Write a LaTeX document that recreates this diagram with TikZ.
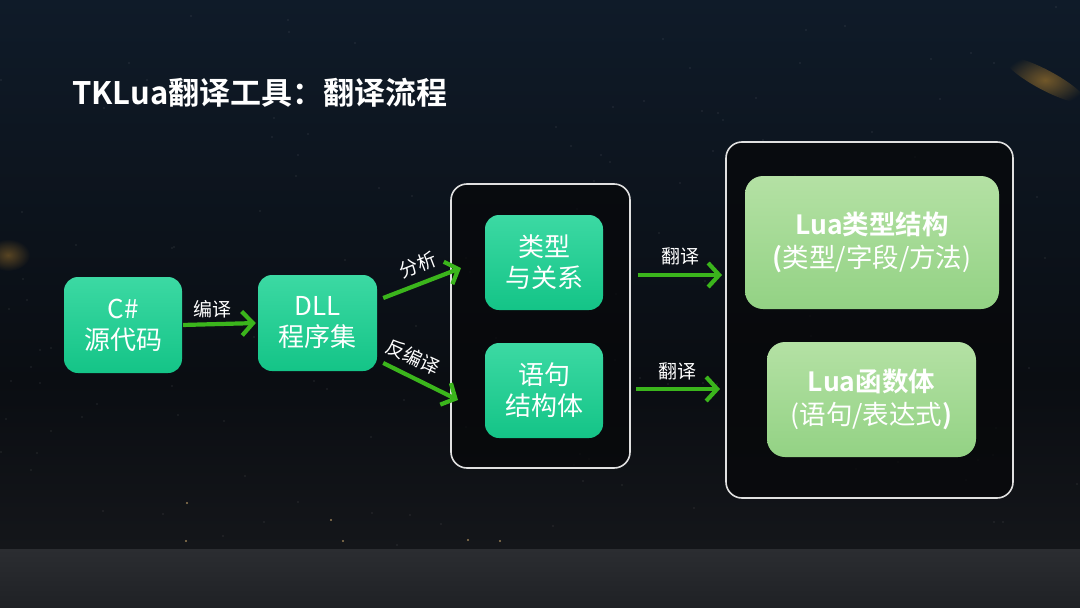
\documentclass[tikz,border=0pt]{standalone}
\usepackage{fontspec}
\setmainfont{Noto Sans CJK SC}[BoldFont={Noto Sans CJK SC Bold}]
\usetikzlibrary{arrows.meta,fadings}
\tikzfading[name=softglow, inner color=transparent!0, outer color=transparent!100]
\definecolor{bgtop}{HTML}{0F1B29}
\definecolor{bgmid}{HTML}{0A0D12}
\definecolor{bglow}{HTML}{14161A}
\definecolor{floortop}{HTML}{2B2D31}
\definecolor{floorbot}{HTML}{1F2125}
\definecolor{gtop}{HTML}{3CD9A3}
\definecolor{gbot}{HTML}{14C487}
\definecolor{ltop}{HTML}{B4E1A4}
\definecolor{lbot}{HTML}{93D284}
\definecolor{arr}{HTML}{3BB51C}
\definecolor{panel}{HTML}{07080A}
\definecolor{gold}{HTML}{B5832E}
\begin{document}
\begin{tikzpicture}[x=1pt,y=-1pt,
  greenbox/.style={rectangle, rounded corners=14pt, top color=gtop, bottom color=gbot,
    text=white, align=center, font=\fontsize{26}{31}\selectfont, inner sep=0pt},
  lightbox/.style={rectangle, rounded corners=18pt, top color=ltop, bottom color=lbot,
    text=white, align=center, font=\fontsize{26.5}{33}\selectfont, inner sep=0pt},
  panelbox/.style={rectangle, draw=white!88!black, line width=1.6pt, rounded corners=16pt,
    fill=panel, fill opacity=0.75, inner sep=0pt},
  flow/.style={draw=arr, line width=4.2pt, -{Straight Barb[length=11pt,width=24pt]}},
  lbl/.style={text=white, font=\fontsize{19}{20}\selectfont, inner sep=0pt}
]
\useasboundingbox (0,0) rectangle (1080,608);
% background
\fill[top color=bgtop, bottom color=bgmid] (0,0) rectangle (1080,380);
\fill[top color=bgmid, bottom color=bglow] (0,380) rectangle (1080,549);
\fill[top color=floortop, bottom color=floorbot] (0,549) rectangle (1080,608);
\fill[gold, path fading=softglow, opacity=0.6, rotate around={-28:(1045,80)}] (1045,80) ellipse (45pt and 10pt);
\fill[gold, path fading=softglow, opacity=0.45] (8,255) ellipse (22pt and 16pt);
\pgfmathsetseed{11}
\foreach \i in {1,...,140}{
  \pgfmathsetmacro\xx{random(0,1080)}
  \pgfmathsetmacro\yy{random(0,545)}
  \fill[white, opacity=0.22] (\xx,\yy) circle (0.7pt);
}
\foreach \p in {(343,541),(331,520),(186,541),(500,541),(468,540),(187,503)}{
  \fill[gold!70!white, opacity=0.7] \p circle (1.1pt);
}
% title
\node[anchor=west, text=white, font=\fontsize{31}{33}\selectfont\bfseries, inner sep=0pt] (title) at (72,93) {TKLua翻译工具：翻译流程};
% panels
\node[panelbox, minimum width=179pt, minimum height=284pt] (mid) at (540.5,326) {};
\node[panelbox, minimum width=287pt, minimum height=356pt] (right) at (869.5,320) {};
% boxes
\node[greenbox, minimum width=118pt, minimum height=96pt] (src) at (123,325) {C\#\\源代码};
\node[greenbox, minimum width=119pt, minimum height=96pt] (dll) at (317.5,323) {DLL\\程序集};
\node[greenbox, minimum width=118pt, minimum height=95pt] (typ) at (544,262.5) {类型\\与关系};
\node[greenbox, minimum width=118pt, minimum height=95pt] (stm) at (544,390.5) {语句\\结构体};
\node[lightbox, minimum width=254pt, minimum height=133pt] (luat) at (872,242.5) {\textbf{Lua类型结构}\\\textbf{(}类型/字段/方法)};
\node[lightbox, minimum width=209pt, minimum height=115pt] (luaf) at (871.5,399.5) {\textbf{Lua函数体}\\(语句/表达式\textbf{)}};
% arrow end points
\coordinate (a1) at (461,268);
\coordinate (a2) at (458,400);
\coordinate (t1s) at (638,275);
\coordinate (t1e) at (722,275);
\coordinate (t2s) at (636,389);
\coordinate (t2e) at (720,389);
% arrows
\draw[flow, shorten <=1pt, shorten >=2pt] (src.east) -- (dll.west);
\draw[flow] ([shift={(6pt,25pt)}]dll.east) -- (a1);
\draw[flow] ([shift={(6pt,-40pt)}]dll.east) -- (a2);
\draw[flow] (t1s) -- (t1e);
\draw[flow] (t2s) -- (t2e);
% labels
\node[lbl] (l1) at (212,309) {编译};
\node[lbl, rotate=21] (l2) at (418,265) {分析};
\node[lbl, rotate=-25] (l3) at (413,357) {反编译};
\node[lbl] (l4) at (680,256) {翻译};
\node[lbl] (l5) at (677,371) {翻译};
\end{tikzpicture}
\end{document}
